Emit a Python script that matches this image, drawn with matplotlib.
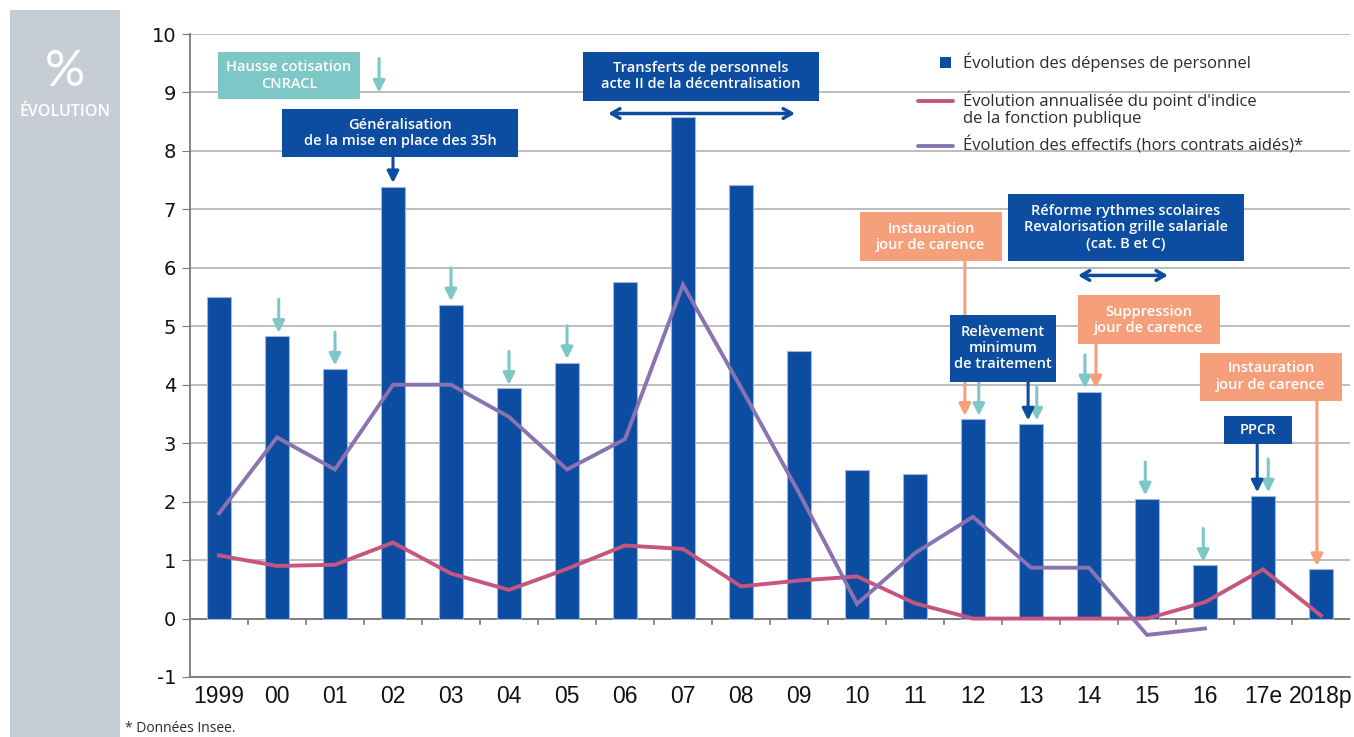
import matplotlib
matplotlib.use('Agg')
import matplotlib.pyplot as plt
from matplotlib.patches import Rectangle
import numpy as np

plt.rcParams['axes.unicode_minus'] = False

years = ['1999', '00', '01', '02', '03', '04', '05', '06', '07', '08',
         '09', '10', '11', '12', '13', '14', '15', '16', '17e', '2018p']
depenses = [5.50, 4.83, 4.27, 7.39, 5.37, 3.94, 4.38, 5.76, 8.58, 7.42,
            4.58, 2.54, 2.48, 3.41, 3.33, 3.88, 2.05, 0.91, 2.10, 0.84]
point_indice = [1.08, 0.90, 0.92, 1.30, 0.77, 0.49, 0.85, 1.25, 1.19, 0.55,
                0.65, 0.72, 0.26, 0.0, 0.0, 0.0, 0.0, 0.28, 0.84, 0.05]
effectifs = [1.80, 3.10, 2.55, 4.00, 4.00, 3.45, 2.55, 3.07, 5.71, 3.95,
             2.15, 0.25, 1.12, 1.74, 0.87, 0.87, -0.28, -0.17]

# years marked with a small teal arrow above the bar (label, x shift)
teal_marks = [('00', 0.03), ('01', 0.0), ('03', 0.0), ('04', 0.0), ('05', 0.0),
              ('12', 0.1), ('13', 0.1), ('14', -0.07), ('15', -0.03),
              ('16', -0.03), ('17e', 0.09)]

NAVY = '#0d4da1'
TEAL = '#7dc8c6'
SALMON = '#f5a07b'
PINK = '#c6557f'
PURPLE = '#8a73b1'
TXT = '#2b2b2b'
BOXFONT = ['Open Sans', 'DejaVu Sans']

fig = plt.figure(figsize=(13.54, 7.37), dpi=100)
ax = fig.add_axes([190 / 1354, 60 / 737, 1160 / 1354, 643 / 737])

x = np.arange(len(years))
ax.bar(x, depenses, width=0.4, color=NAVY, edgecolor='#9fb6dc', linewidth=0.8, zorder=3)
ax.plot(x, point_indice, color=PINK, lw=2.8, zorder=4, solid_joinstyle='miter')
ax.plot(x[:len(effectifs)], effectifs, color=PURPLE, lw=2.8, zorder=4, solid_joinstyle='miter')

ax.set_xlim(-0.5, 19.5)
ax.set_ylim(-1, 10)
ax.set_yticks(range(-1, 11))
ax.yaxis.grid(True, color='#b8b8b8', lw=1.3, zorder=0)
ax.axhline(0, color='#7a7a7a', lw=1.3, zorder=2)
for b in np.arange(0.5, 19, 1):
    ax.plot([b, b], [0, -0.09], color='#7a7a7a', lw=1.2, zorder=2, clip_on=False)

ax.set_xticks(x)
ax.set_xticklabels(years, family=['Liberation Sans Narrow', 'DejaVu Sans Condensed', 'Liberation Sans'],
                   fontsize=16.5, color='#111')
ax.tick_params(axis='x', length=0, pad=6)
ax.tick_params(axis='y', length=6, color='#7a7a7a', labelsize=14, labelcolor='#111', pad=4)
for side in ['top', 'right']:
    ax.spines[side].set_visible(False)
ax.spines['left'].set_color('#7a7a7a')
ax.spines['bottom'].set_color('#7a7a7a')
ax.spines['left'].set_linewidth(1.3)
ax.spines['bottom'].set_linewidth(1.3)


def box(x0, x1, y0, y1, text, color, size=10.5):
    ax.add_patch(Rectangle((x0, y0), x1 - x0, y1 - y0, facecolor=color,
                           edgecolor='none', zorder=6, clip_on=False))
    ax.text((x0 + x1) / 2, (y0 + y1) / 2, text, ha='center', va='center', color='white',
            fontsize=size, fontweight='semibold', family=BOXFONT, linespacing=1.2,
            zorder=7)


def arrow(xp, y_from, y_to, color, lw=2.2):
    ax.annotate('', xy=(xp, y_to), xytext=(xp, y_from), zorder=5,
                arrowprops=dict(arrowstyle='-|>,head_width=0.35,head_length=0.7',
                                color=color, lw=lw, shrinkA=0, shrinkB=0))


def double_arrow(x0, x1, yp):
    ax.annotate('', xy=(x1, yp), xytext=(x0, yp), zorder=5,
                arrowprops=dict(arrowstyle='<->,head_width=0.35,head_length=0.6',
                                color=NAVY, lw=2.5, shrinkA=0, shrinkB=0))


# teal arrows above bars
for lab, dx in teal_marks:
    i = years.index(lab)
    top = depenses[i] + 0.06
    arrow(i + dx, top + 0.57, top, TEAL)

# annotation boxes
box(-0.02, 2.43, 8.88, 9.70, 'Hausse cotisation\nCNRACL', TEAL)
arrow(2.76, 9.58, 9.0, TEAL)

box(1.09, 5.16, 7.89, 8.71, 'Généralisation\nde la mise en place des 35h', NAVY)
arrow(3.0, 7.89, depenses[3] + 0.06, NAVY)

box(6.28, 10.34, 8.86, 9.70, 'Transferts de personnels\nacte II de la décentralisation', NAVY)
double_arrow(6.71, 9.93, 8.64)

box(11.05, 13.5, 6.11, 6.95, 'Instauration\njour de carence', SALMON)
arrow(12.86, 6.11, depenses[13] + 0.06, SALMON)

box(13.6, 17.67, 6.11, 7.27, 'Réforme rythmes scolaires\nRevalorisation grille salariale\n(cat. B et C)', NAVY)
double_arrow(14.81, 16.36, 5.87)

box(12.6, 14.43, 4.05, 5.20, 'Relèvement\nminimum\nde traitement', NAVY)
arrow(13.95, 4.05, depenses[14] + 0.06, NAVY)

box(14.81, 17.26, 4.69, 5.53, 'Suppression\njour de carence', SALMON)
arrow(15.12, 4.69, depenses[15] + 0.06, SALMON)

box(16.91, 19.36, 3.73, 4.55, 'Instauration\njour de carence', SALMON)
arrow(18.93, 3.73, depenses[19] + 0.06, SALMON)

box(17.33, 18.5, 2.98, 3.47, 'PPCR', NAVY)
arrow(17.9, 2.98, depenses[18] + 0.06, NAVY)

# legend
ax.add_patch(Rectangle((12.43, 9.42), 0.19, 0.19, facecolor=NAVY, zorder=6))
ax.text(12.83, 9.52, 'Évolution des dépenses de personnel', va='center', fontsize=12,
        color=TXT, family=BOXFONT, zorder=7)
ax.plot([12.05, 12.66], [8.86, 8.86], color=PINK, lw=2.8, zorder=6, solid_capstyle='round')
ax.text(12.83, 9.04, "Évolution annualisée du point d'indice\nde la fonction publique", va='top',
        fontsize=12, color=TXT, family=BOXFONT, zorder=7, linespacing=1.15)
ax.plot([12.05, 12.66], [8.09, 8.09], color=PURPLE, lw=2.8, zorder=6, solid_capstyle='round')
ax.text(12.83, 8.09, 'Évolution des effectifs (hors contrats aidés)*', va='center', fontsize=12,
        color=TXT, family=BOXFONT, zorder=7)

# left grey band
fig.patches.append(Rectangle((10 / 1354, 0), 110 / 1354, 1 - 10 / 737, transform=fig.transFigure,
                             facecolor='#c6cdd4', edgecolor='none', zorder=0))
fig.text(65 / 1354, 1 - 72 / 737, '%', ha='center', va='center', color='white', fontsize=36,
         family=['Lato', 'DejaVu Sans'], fontweight='normal')
fig.text(65 / 1354, 1 - 112 / 737, 'ÉVOLUTION', ha='center', va='center', color='white',
         fontsize=11.5, fontweight='semibold', family=BOXFONT)

fig.text(125 / 1354, 1 - 729 / 737, '* Données Insee.', ha='left', va='center', fontsize=10,
         color=TXT, family=BOXFONT)

fig.savefig('out.png', dpi=100)
